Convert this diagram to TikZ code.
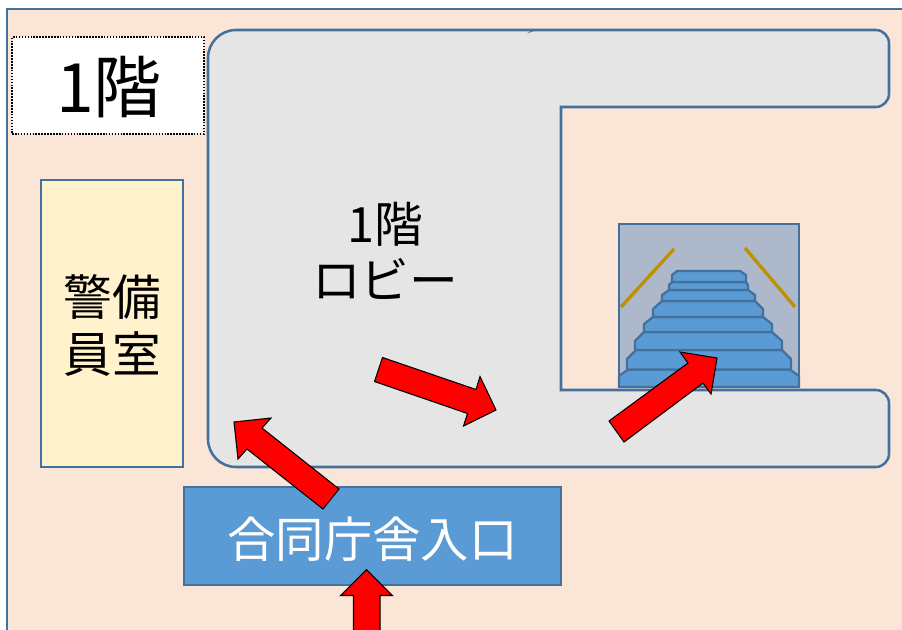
\documentclass[tikz,border=0pt]{standalone}
\usepackage{fontspec}
\setmainfont{Noto Sans CJK JP}
\usepackage{tikz}
\usepackage{xcolor}

\definecolor{fondo}{HTML}{FBE5D6}
\definecolor{borde}{HTML}{41719C}
\definecolor{azul}{HTML}{5B9BD5}
\definecolor{gris}{HTML}{E5E5E5}
\definecolor{crema}{HTML}{FFF2CC}
\definecolor{pizarra}{HTML}{ADB9CA}
\definecolor{oro}{HTML}{BF9000}

\tikzset{
    caja/.style={draw=borde, line width=1.9pt},
    flecha/.style={draw=black, fill=red, line width=0.8pt, miter limit=10},
    peldano/.style={draw=borde, fill=azul, line width=1.7pt, line join=round},
    baranda/.style={draw=oro, line width=2.5pt},
    rotulo/.style={align=center, inner sep=0pt, font=\fontsize{36.5}{42.5}\selectfont}
}

\begin{document}
\begin{tikzpicture}[x=0.75pt, y=-0.75pt]
    \useasboundingbox (0,0) rectangle (902,629);

    % Fondo de la planta
    \begin{scope}
        \clip (0,0) rectangle (902,629);
        \draw[caja, fill=fondo] (7,9) rectangle (920,650);

        % Vestibulo
        \draw[caja, fill=gris]
            (400,30) [rounded corners=10pt] -- (889,30) -- (889,107) [sharp corners]
            -- (561,107) -- (561,390) [rounded corners=10pt] -- (889,390) -- (889,467)
            [rounded corners=21pt] -- (208,467) -- (208,30) [sharp corners] -- cycle;
        \fill[borde] (527,33.5) -- (532,30) -- (536,30) -- (531,32) -- cycle;

        % Salas
        \node[draw=black, densely dotted, line width=1.2pt, fill=white, minimum width=144pt, minimum height=72.5pt] (planta) at (108,85.5) {};
        \node[caja, fill=crema, minimum width=106.5pt, minimum height=215pt] (guardia) at (112,323.5) {};
        \node[caja, fill=azul, minimum width=282.5pt, minimum height=73.5pt] (entrada) at (372.5,536) {};

        % Rotulos
        \node[inner sep=0pt, font=\fontsize{51}{58}\selectfont] (plantatexto) at (109,87) {1階};
        \node[rotulo] (vestibulo) at (385,251) {1階\\ロビー};
        \node[rotulo] (guardiatexto) at (112,325.5) {警備\\員室};
        \node[text=white, inner sep=0pt, font=\fontsize{36.3}{42}\selectfont] (entradatexto) at (372.5,539.5) {合同庁舎入口};

        % Escalera
        \node[caja, fill=pizarra, minimum width=135pt, minimum height=122.25pt, inner sep=0pt] (escalera) at (709,305.5) {};
        \draw[baranda] (621,307) -- (674,249);
        \draw[baranda] (745,248) -- (795,307);
        \foreach \ya/\yb/\xa/\xb/\xc/\xd/\yc in {
            387/369.5/619/799/628/790/376,
            369.5/350/627/791/636/782/359,
            350/332/635/782/644/772/341,
            332/317/644/772/653/763/324,
            317/301/653/763/662/755/309,
            301/290/662/755/669/748/295,
            290/282/669/748/672/746/285,
            282/271/672/746/677/740/275}
            \draw[peldano] (\xa,\ya) -- (\xa,\yc) -- (\xc,\yb) -- (\xd,\yb) -- (\xb,\yc) -- (\xb,\ya) -- cycle;

        % Flechas
        \draw[flecha] (339,489) -- (262,428) -- (271,418) -- (234,422) -- (238,459) -- (247,449) -- (323,509) -- cycle;
        \draw[flecha] (382.5,357.5) -- (476,389.5) -- (480,376.5) -- (496,410) -- (463.5,426) -- (467.5,413.5) -- (374.5,381.5) -- cycle;
        \draw[flecha] (609,421) -- (688,363) -- (680,352) -- (717,358) -- (711,394) -- (703,383) -- (624,442) -- cycle;
        \draw[flecha] (353.5,640) -- (353.5,595.5) -- (340.5,595.5) -- (366.5,569.5) -- (392.5,595.5) -- (380,595.5) -- (380,640) -- cycle;
    \end{scope}
\end{tikzpicture}
\end{document}
